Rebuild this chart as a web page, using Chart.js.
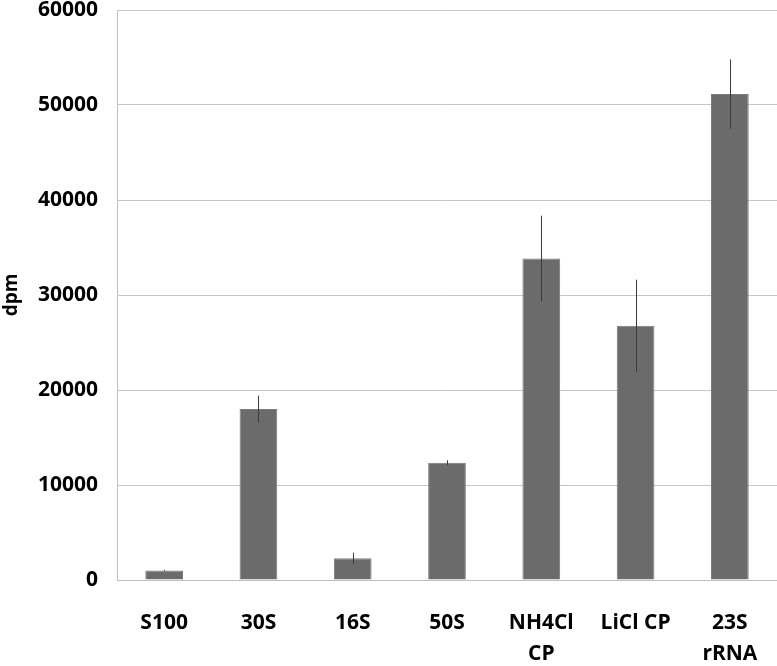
<!DOCTYPE html>
<html>
<head>
<meta charset="utf-8">
<script src="https://cdn.jsdelivr.net/npm/chart.js@4"></script>
<style>
html,body{margin:0;padding:0;background:#fff;}
#wrap{width:777px;height:666px;}
</style>
</head>
<body>
<div id="wrap"><canvas id="c" width="777" height="666"></canvas></div>
<script>
const categories = [["S100"], ["30S"], ["16S"], ["50S"], ["NH4Cl", "CP"], ["LiCl CP"], ["23S", "rRNA"]];
const values = [1000, 18000, 2300, 12350, 33850, 26770, 51150];
const errors = [60, 1400, 580, 250, 4500, 4840, 3650];
const yTicks = [0, 10000, 20000, 30000, 40000, 50000, 60000];

const errorBarPlugin = {
  id: 'errorBars',
  afterDatasetsDraw(chart) {
    const ctx = chart.ctx;
    const meta = chart.getDatasetMeta(0);
    const y = chart.scales.y;
    ctx.save();
    ctx.strokeStyle = '#3a3a3a';
    ctx.lineWidth = 1;
    meta.data.forEach((bar, i) => {
      const v = values[i], e = errors[i];
      const x = Math.round(bar.x) + 0.5;
      ctx.beginPath();
      ctx.moveTo(x, y.getPixelForValue(v + e));
      ctx.lineTo(x, y.getPixelForValue(v - e));
      ctx.stroke();
    });
    ctx.restore();
  }
};

new Chart(document.getElementById('c'), {
  type: 'bar',
  data: {
    labels: categories,
    datasets: [{
      data: values,
      backgroundColor: '#6b6b6b',
      borderColor: '#7a7a7a',
      borderWidth: 1,
      categoryPercentage: 1.0,
      barPercentage: 0.4
    }]
  },
  options: {
    responsive: false,
    animation: false,
    layout: { padding: { top: 10, right: 0, left: 0, bottom: 0 } },
    plugins: { legend: { display: false }, tooltip: { enabled: false } },
    scales: {
      x: {
        grid: { display: false },
        border: { display: true, color: '#bfbfbf' },
        ticks: {
          color: '#000',
          font: { family: '"Open Sans", sans-serif', weight: 'bold', size: 21, lineHeight: 1.5 },
          padding: 19,
          maxRotation: 0,
          autoSkip: false
        },
        afterFit(scale) { scale.height = 86; scale.paddingTop = 0; }
      },
      y: {
        min: 0,
        max: 60000,
        afterBuildTicks(scale) { scale.ticks = yTicks.map(v => ({ value: v })); },
        grid: { color: '#c6c6c6', drawTicks: false },
        border: { display: true, color: '#bfbfbf' },
        ticks: {
          color: '#000',
          font: { family: '"Open Sans", sans-serif', weight: 'bold', size: 21 },
          padding: 19,
          callback: v => String(v)
        },
        title: {
          display: true,
          text: 'dpm',
          color: '#000',
          font: { family: '"Open Sans", sans-serif', weight: 'bold', size: 19 },
          padding: { top: 0, bottom: 0 }
        },
        afterFit(scale) { scale.width = 117; scale.paddingTop = 0; scale.paddingBottom = 0; }
      }
    }
  },
  plugins: [errorBarPlugin]
});
</script>
</body>
</html>
